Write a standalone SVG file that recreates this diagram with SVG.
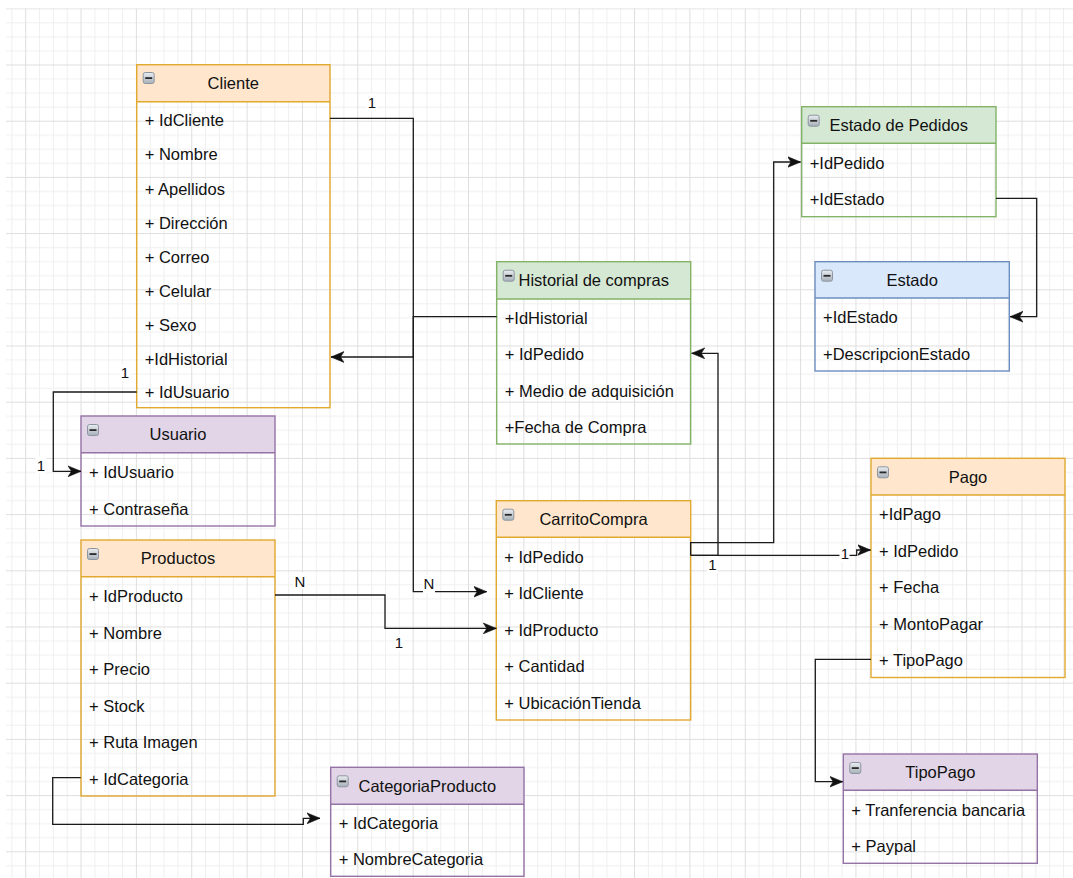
<svg xmlns="http://www.w3.org/2000/svg" width="1073" height="878" viewBox="0 0 1073 878">
<defs>
<style>
.t{font-family:"Liberation Sans",Arial,sans-serif;font-size:16.5px;fill:#111}
.ttl{text-anchor:middle}
.lbl{font-family:"Liberation Sans",Arial,sans-serif;font-size:15px;fill:#111;text-anchor:middle}
.lbg{fill:#fff}
.ol{fill:none;stroke-width:1.4}
.o .hd{fill:#ffe6cc}.o .ol,.o .sep{stroke:#e2a92f}
.g .hd{fill:#d5e8d4}.g .ol,.g .sep{stroke:#82b366}
.b .hd{fill:#dae8fc}.b .ol,.b .sep{stroke:#6c8ebf}
.p .hd{fill:#e1d5e7}.p .ol,.p .sep{stroke:#9673a6}
.sep{stroke-width:1.4}
.e{fill:none;stroke:#1a1a1a;stroke-width:1.3}
.ea{marker-end:url(#arr)}
</style>
<pattern id="grid" patternUnits="userSpaceOnUse" x="25.2" y="8.3" width="55.35" height="56.2">
<path d="M14.34,0V56.2M28.18,0V56.2M42.01,0V56.2M0,14.55H55.35M0,28.6H55.35M0,42.65H55.35" stroke="#efefef" stroke-width="1" fill="none"/>
<path d="M0.5,0V56.2M0,0.5H55.35" stroke="#dedede" stroke-width="1" fill="none"/>
</pattern>
<linearGradient id="icog" x1="0" y1="0" x2="0" y2="1">
<stop offset="0" stop-color="#e9edf1"/><stop offset="1" stop-color="#a7b0b9"/>
</linearGradient>
<g id="ico"><rect x="0.5" y="0.5" width="11" height="11" rx="2" fill="url(#icog)" stroke="#8d96a0" stroke-width="1"/><rect x="2.5" y="5.2" width="7" height="1.8" fill="#2a2a2a"/></g>
<marker id="arr" markerUnits="userSpaceOnUse" markerWidth="14" markerHeight="12" refX="13" refY="6" orient="auto" viewBox="0 0 14 12">
<path d="M0,0.6 L13,6 L0,11.4 L3.5,6 Z" fill="#111" stroke="#111" stroke-width="0.6"/>
</marker>
</defs>
<rect width="1073" height="878" fill="#fff"/>
<rect x="6" y="8.3" width="1067" height="869.7" fill="url(#grid)"/>

<g id="cliente" class="o">
<rect class="hd" x="136.7" y="64.7" width="193.3" height="37"/>
<rect class="ol" x="136.7" y="64.7" width="193.3" height="343"/>
<line class="sep" x1="136.7" y1="101.7" x2="330" y2="101.7"/>
<use href="#ico" x="142.7" y="72"/>
<text class="t ttl" x="233.3" y="89.3">Cliente</text>
<text class="t" x="144.7" y="126.2">+ IdCliente</text>
<text class="t" x="144.7" y="160.2">+ Nombre</text>
<text class="t" x="144.7" y="195.2">+ Apellidos</text>
<text class="t" x="144.7" y="229.2">+ Dirección</text>
<text class="t" x="144.7" y="262.7">+ Correo</text>
<text class="t" x="144.7" y="296.7">+ Celular</text>
<text class="t" x="144.7" y="330.7">+ Sexo</text>
<text class="t" x="144.7" y="364.5">+IdHistorial</text>
<text class="t" x="144.7" y="398.2">+ IdUsuario</text>
</g>

<g id="usuario" class="p">
<rect class="hd" x="81" y="416" width="194" height="36.7"/>
<rect class="ol" x="81" y="416" width="194" height="110"/>
<line class="sep" x1="81" y1="452.7" x2="275" y2="452.7"/>
<use href="#ico" x="87" y="424"/>
<text class="t ttl" x="178" y="440.3">Usuario</text>
<text class="t" x="89" y="478">+ IdUsuario</text>
<text class="t" x="89" y="514.7">+ Contraseña</text>
</g>

<g id="productos" class="o">
<rect class="hd" x="81" y="540" width="194" height="36.7"/>
<rect class="ol" x="81" y="540" width="194" height="256"/>
<line class="sep" x1="81" y1="576.7" x2="275" y2="576.7"/>
<use href="#ico" x="87" y="548"/>
<text class="t ttl" x="178" y="564.3">Productos</text>
<text class="t" x="89" y="602">+ IdProducto</text>
<text class="t" x="89" y="638.5">+ Nombre</text>
<text class="t" x="89" y="675.1">+ Precio</text>
<text class="t" x="89" y="711.6">+ Stock</text>
<text class="t" x="89" y="748.2">+ Ruta Imagen</text>
<text class="t" x="89" y="784.7">+ IdCategoria</text>
</g>

<g id="categoriaproducto" class="p">
<rect class="hd" x="330.7" y="767.3" width="193.3" height="37"/>
<rect class="ol" x="330.7" y="767.3" width="193.3" height="109"/>
<line class="sep" x1="330.7" y1="804.3" x2="524" y2="804.3"/>
<use href="#ico" x="336.7" y="775.3"/>
<text class="t ttl" x="427.3" y="791.8">CategoriaProducto</text>
<text class="t" x="338.7" y="829.3">+ IdCategoria</text>
<text class="t" x="338.7" y="865.3">+ NombreCategoria</text>
</g>

<g id="carritocompra" class="o">
<rect class="hd" x="496.3" y="500.7" width="194.4" height="36.6"/>
<rect class="ol" x="496.3" y="500.7" width="194.4" height="219.3"/>
<line class="sep" x1="496.3" y1="537.3" x2="690.7" y2="537.3"/>
<use href="#ico" x="502.3" y="508.7"/>
<text class="t ttl" x="593.5" y="525">CarritoCompra</text>
<text class="t" x="504.3" y="562.6">+ IdPedido</text>
<text class="t" x="504.3" y="599.1">+ IdCliente</text>
<text class="t" x="504.3" y="635.6">+ IdProducto</text>
<text class="t" x="504.3" y="672.1">+ Cantidad</text>
<text class="t" x="504.3" y="708.6">+ UbicaciónTienda</text>
</g>

<g id="historial" class="g">
<rect class="hd" x="496.7" y="261.7" width="194" height="37.3"/>
<rect class="ol" x="496.7" y="261.7" width="194" height="182.3"/>
<line class="sep" x1="496.7" y1="299" x2="690.7" y2="299"/>
<use href="#ico" x="502.7" y="269.7"/>
<text class="t ttl" x="593.7" y="286.3">Historial de compras</text>
<text class="t" x="504.7" y="324.1">+IdHistorial</text>
<text class="t" x="504.7" y="360.4">+ IdPedido</text>
<text class="t" x="504.7" y="396.6">+ Medio de adquisición</text>
<text class="t" x="504.7" y="432.9">+Fecha de Compra</text>
</g>

<g id="estadopedidos" class="g">
<rect class="hd" x="801.7" y="106.7" width="194.3" height="36.6"/>
<rect class="ol" x="801.7" y="106.7" width="194.3" height="110"/>
<line class="sep" x1="801.7" y1="143.3" x2="996" y2="143.3"/>
<use href="#ico" x="807.7" y="114.7"/>
<text class="t ttl" x="898.8" y="131">Estado de Pedidos</text>
<text class="t" x="809.7" y="168.7">+IdPedido</text>
<text class="t" x="809.7" y="205.3">+IdEstado</text>
</g>

<g id="estado" class="b">
<rect class="hd" x="815" y="261.7" width="194.3" height="36.3"/>
<rect class="ol" x="815" y="261.7" width="194.3" height="109.3"/>
<line class="sep" x1="815" y1="298" x2="1009.3" y2="298"/>
<use href="#ico" x="821" y="269.7"/>
<text class="t ttl" x="912.2" y="285.9">Estado</text>
<text class="t" x="823" y="323.3">+IdEstado</text>
<text class="t" x="823" y="359.8">+DescripcionEstado</text>
</g>

<g id="pago" class="o">
<rect class="hd" x="871" y="458.3" width="194" height="36.7"/>
<rect class="ol" x="871" y="458.3" width="194" height="219.2"/>
<line class="sep" x1="871" y1="495" x2="1065" y2="495"/>
<use href="#ico" x="877" y="466.3"/>
<text class="t ttl" x="968" y="482.7">Pago</text>
<text class="t" x="879" y="520.3">+IdPago</text>
<text class="t" x="879" y="556.8">+ IdPedido</text>
<text class="t" x="879" y="593.3">+ Fecha</text>
<text class="t" x="879" y="629.8">+ MontoPagar</text>
<text class="t" x="879" y="666.3">+ TipoPago</text>
</g>

<g id="tipopago" class="p">
<rect class="hd" x="843.3" y="754" width="194" height="36.3"/>
<rect class="ol" x="843.3" y="754" width="194" height="109.3"/>
<line class="sep" x1="843.3" y1="790.3" x2="1037.3" y2="790.3"/>
<use href="#ico" x="849.3" y="762"/>
<text class="t ttl" x="940.3" y="778.2">TipoPago</text>
<text class="t" x="851.3" y="815.6">+ Tranferencia bancaria</text>
<text class="t" x="851.3" y="852.1">+ Paypal</text>
</g>

<g id="connectors">
<path class="e ea" d="M330,118.4 H413.3 V591.7 H486.7"/>
<path class="e ea" d="M496.7,316.7 H413.3 V357 H331"/>
<path class="e ea" d="M136.7,392 H53.3 V471.3 H81"/>
<path class="e ea" d="M275,595 H385 V628.4 H496.3"/>
<path class="e ea" d="M80.7,777.7 H52.7 V824.3 H303.3 V818.3 H320"/>
<path class="e ea" d="M690.7,555.3 H718 V353.3 H691.7"/>
<path class="e ea" d="M690.7,555.3 V542.7 H773.7 V162 H800.5"/>
<path class="e ea" d="M690.7,555.3 H856.7 V550 H870.5"/>
<path class="e ea" d="M996,198.3 H1036.7 V316.7 H1010"/>
<path class="e ea" d="M871,659.3 H815.3 V781.7 H842.7"/>
<g id="labels">
<rect class="lbg" x="366.5" y="93.5" width="11" height="17"/><text class="lbl" x="372" y="107.5">1</text>
<rect class="lbg" x="119.5" y="364" width="11" height="17"/><text class="lbl" x="125" y="378">1</text>
<rect class="lbg" x="35.5" y="456.5" width="11" height="17"/><text class="lbl" x="41" y="470.5">1</text>
<rect class="lbg" x="293.5" y="572.5" width="13" height="17"/><text class="lbl" x="300" y="586.5">N</text>
<rect class="lbg" x="423" y="575" width="12" height="18"/><text class="lbl" x="429" y="588.5">N</text>
<rect class="lbg" x="393.5" y="634" width="11" height="17"/><text class="lbl" x="399" y="648">1</text>
<rect class="lbg" x="707" y="556" width="11" height="17"/><text class="lbl" x="712.5" y="570">1</text>
<rect class="lbg" x="839.5" y="545" width="10" height="17"/><text class="lbl" x="844.8" y="558.5">1</text>
</g>
</g>
</svg>
